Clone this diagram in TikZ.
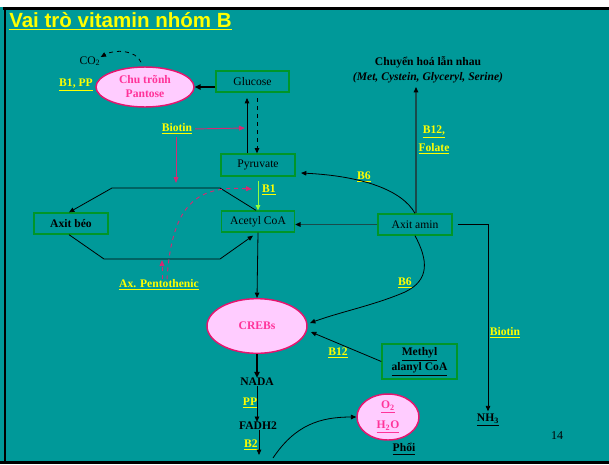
\documentclass[tikz,border=0pt]{standalone}
\usepackage{fontspec}
\setmainfont{Liberation Serif}
\newfontfamily\titlefont{Liberation Sans}
\usetikzlibrary{arrows.meta,shapes.geometric}
\definecolor{bg}{RGB}{0,153,153}
\definecolor{boxg}{RGB}{0,150,40}
\definecolor{pfill}{RGB}{255,204,255}
\definecolor{pline}{RGB}{230,20,110}
\definecolor{ptext}{RGB}{255,51,153}
\definecolor{parrow}{RGB}{215,40,115}
\definecolor{lgreen}{RGB}{150,255,60}
\definecolor{ylw}{RGB}{255,255,0}
\definecolor{dline}{RGB}{25,75,75}
\newcommand{\fsz}{\fontsize{8.7}{10.5}\selectfont}
\begin{document}
\begin{tikzpicture}[x=0.75pt,y=-0.75pt,
  box/.style={draw=boxg,line width=1pt,inner sep=0pt,font=\fsz},
  ell/.style={ellipse,draw=pline,fill=pfill,line width=1.1pt,inner sep=0pt,text=ptext,font=\fsz\bfseries},
  lbl/.style={text=ylw,font=\fsz\bfseries,inner sep=0pt},
  txt/.style={font=\fsz,inner sep=0pt},
  arr/.style={line width=0.6pt,-{Triangle[length=4pt,width=3.4pt]}},
  thickarr/.style={line width=1.4pt,-{Triangle[length=4.5pt,width=4pt]}},
  parr/.style={draw=parrow,line width=0.7pt,-{Triangle[length=4.5pt,width=3.6pt]}},
  garr/.style={draw=lgreen,line width=0.7pt,-{Triangle[length=4pt,width=3.4pt]}},
  darr/.style={draw=dline,line width=0.9pt,-{Triangle[length=4pt,width=3.4pt,color=black]}}
]
\useasboundingbox (0,0) rectangle (609,464);
\fill[bg] (0,0) rectangle (609,464);
\fill[white] (0,0) rectangle (609,7);
\draw[line width=2.25pt] (3,8.5) -- (609,8.5);
\draw[line width=1.8pt] (5,7) -- (5,464);
\draw[line width=2pt] (0,462.8) -- (609,462.8);

\node[anchor=base west,inner sep=0pt,text=ylw,font=\titlefont\bfseries\fontsize{15.4}{18}\selectfont] (title) at (9,27) {\underline{Vai trò vitamin nhóm B}};

% boxes
\node[box,minimum width=54.75pt,minimum height=15.75pt] (glucose) at (252.5,81.5) {Glucose};
\node[box,minimum width=55.5pt,minimum height=16.5pt] (pyruvate) at (258,165) {Pyruvate};
\node[box,minimum width=54.75pt,minimum height=15.75pt] (acetyl) at (258,221.5) {Acetyl CoA};
\node[box,minimum width=55.5pt,minimum height=15.75pt,font=\fsz\bfseries] (axitbeo) at (71,223.5) {Axit béo};
\node[box,minimum width=55.5pt,minimum height=15.75pt] (axitamin) at (415,224.5) {Axit amin};
\node[box,minimum width=56.25pt,minimum height=26.25pt,font=\fontsize{8.7}{11.25}\selectfont\bfseries,align=center] (methyl) at (419.5,361.5) {\underline{Methyl}\\\underline{alanyl CoA}};

% ellipses
\node[ell,minimum width=73.5pt,minimum height=30pt,align=center,font=\fontsize{8.7}{10.5}\selectfont\bfseries] (pantose) at (145,87) {Chu trõnh\\Pantose};
\node[ell,minimum width=75pt,minimum height=41pt] (crebs) at (257,326) {CREBs};
\node[ell,minimum width=46.5pt,minimum height=34.5pt,align=center,font=\fontsize{8.7}{15}\selectfont\bfseries] (o2) at (388,417) {\underline{O\textsubscript{2}}\\\underline{H\textsubscript{2}O}};

% texts
\node[txt] (co2) at (90,61) {CO\textsubscript{2}};
\node[txt,font=\fsz\bfseries] (nada) at (257,382) {NADA};
\node[txt,font=\fsz\bfseries] (fadh) at (258,426) {FADH2};
\node[txt,font=\fsz\bfseries] (phoi) at (404,449) {\underline{Phổi}};
\node[txt,font=\fsz\bfseries] (nh3) at (488,420) {\underline{NH\textsubscript{3}}};
\node[txt,font=\fontsize{9}{11}\selectfont] (pg) at (557,436) {14};
\node[txt,align=center,font=\fontsize{8.7}{11.25}\selectfont\bfseries] (chuyen) at (428,69.5) {Chuyển hoá lẫn nhau\\\textit{(Met, Cystein, Glyceryl, Serine)}};

% yellow labels
\node[lbl] (lb1pp) at (76,85) {\underline{B1, PP}};
\node[lbl] (lbiotin) at (177,129) {\underline{Biotin}};
\node[lbl] (lb1) at (269,190) {\underline{B1}};
\node[lbl] (lpent) at (159,285) {\underline{Ax. Pentothenic}};
\node[lbl] (lb6a) at (364,177) {\underline{B6}};
\node[lbl,align=center,font=\fontsize{8.7}{14}\selectfont\bfseries] (lb12f) at (434,140) {\underline{B12,}\\\underline{Folate}};
\node[lbl] (lb6b) at (405,283) {\underline{B6}};
\node[lbl] (lb12) at (338,353) {\underline{B12}};
\node[lbl] (lpp) at (250,403) {\underline{PP}};
\node[lbl] (lb2) at (251,445) {\underline{B2}};
\node[lbl] (lbiotin2) at (505,333) {\underline{Biotin}};

% coordinates
\coordinate (gup) at (247,98);
\coordinate (gdn) at (257,98);
\coordinate (bt) at (245,128);
\coordinate (bd) at (176,183);
\coordinate (pu) at (162,260);
\coordinate (pc) at (252,189);
\coordinate (fend) at (259,455);
\coordinate (cs) at (273,458);
\coordinate (ct) at (416,87);
\coordinate (b6t) at (301,173);
\coordinate (b6m) at (405,292);
\coordinate (b6e) at (310,323);
\coordinate (me) at (311,332);

% connectors
\draw[arr,dashed] ([xshift=-3pt,yshift=3pt]pantose.north) .. controls (136,50) and (115,49) .. ([yshift=3pt]co2.east);
\draw[thickarr] (glucose.west |- pantose.east) -- (pantose.east);
\draw[arr] (pyruvate.north -| gup) -- (gup);
\draw[arr,dashed] (gdn) -- (pyruvate.north -| gdn);
\draw[parr,shorten <=2pt] (lbiotin.east) -- (bt);
\draw[parr,shorten <=2pt] (lbiotin.south -| bd) -- (bd);
\draw[garr] ([yshift=-3pt]pyruvate.south) -- (acetyl.north);

\draw[arr] ([xshift=-1.5pt]acetyl.north) -- (220,188) -- (112,188) -- ([xshift=-1.5pt]axitbeo.north);
\draw[arr] ([xshift=-1.5pt]axitbeo.south) -- (104,259) -- (220,259) -- ([xshift=-3.75pt,yshift=-2.25pt]acetyl.south);

\draw[parr,dashed] ([xshift=2.25pt]lpent.north) -- (pu);
\draw[parr,dashed] ([xshift=6pt]lpent.north) .. controls (172,200) and (200,186) .. (pc);

\draw[arr] (acetyl.south) -- (crebs.north);
\draw[thickarr] (crebs.south) -- (nada.north);
\draw[arr] (nada.south) -- (nada.south |- fadh.north);
\draw[arr] (fadh.south -| fend) -- (fend);
\draw[arr] (cs) .. controls (295,425) and (320,417) .. (o2.west);

\draw[darr] (axitamin.west) -- (acetyl.east |- axitamin.west);
\draw[darr] (axitamin.north -| ct) -- (ct);
\draw[arr,shorten >=2pt] ([xshift=3.75pt]axitamin.east) -| (nh3.north);
\draw[arr] (axitamin.north) .. controls (402,190) and (362,176) .. (b6t);
\draw[arr] (axitamin.south) .. controls (428,260) and (430,280) .. (b6m) .. controls (375,305) and (340,312) .. (b6e);
\draw[arr] (methyl.west) -- (me);
\end{tikzpicture}
\end{document}
